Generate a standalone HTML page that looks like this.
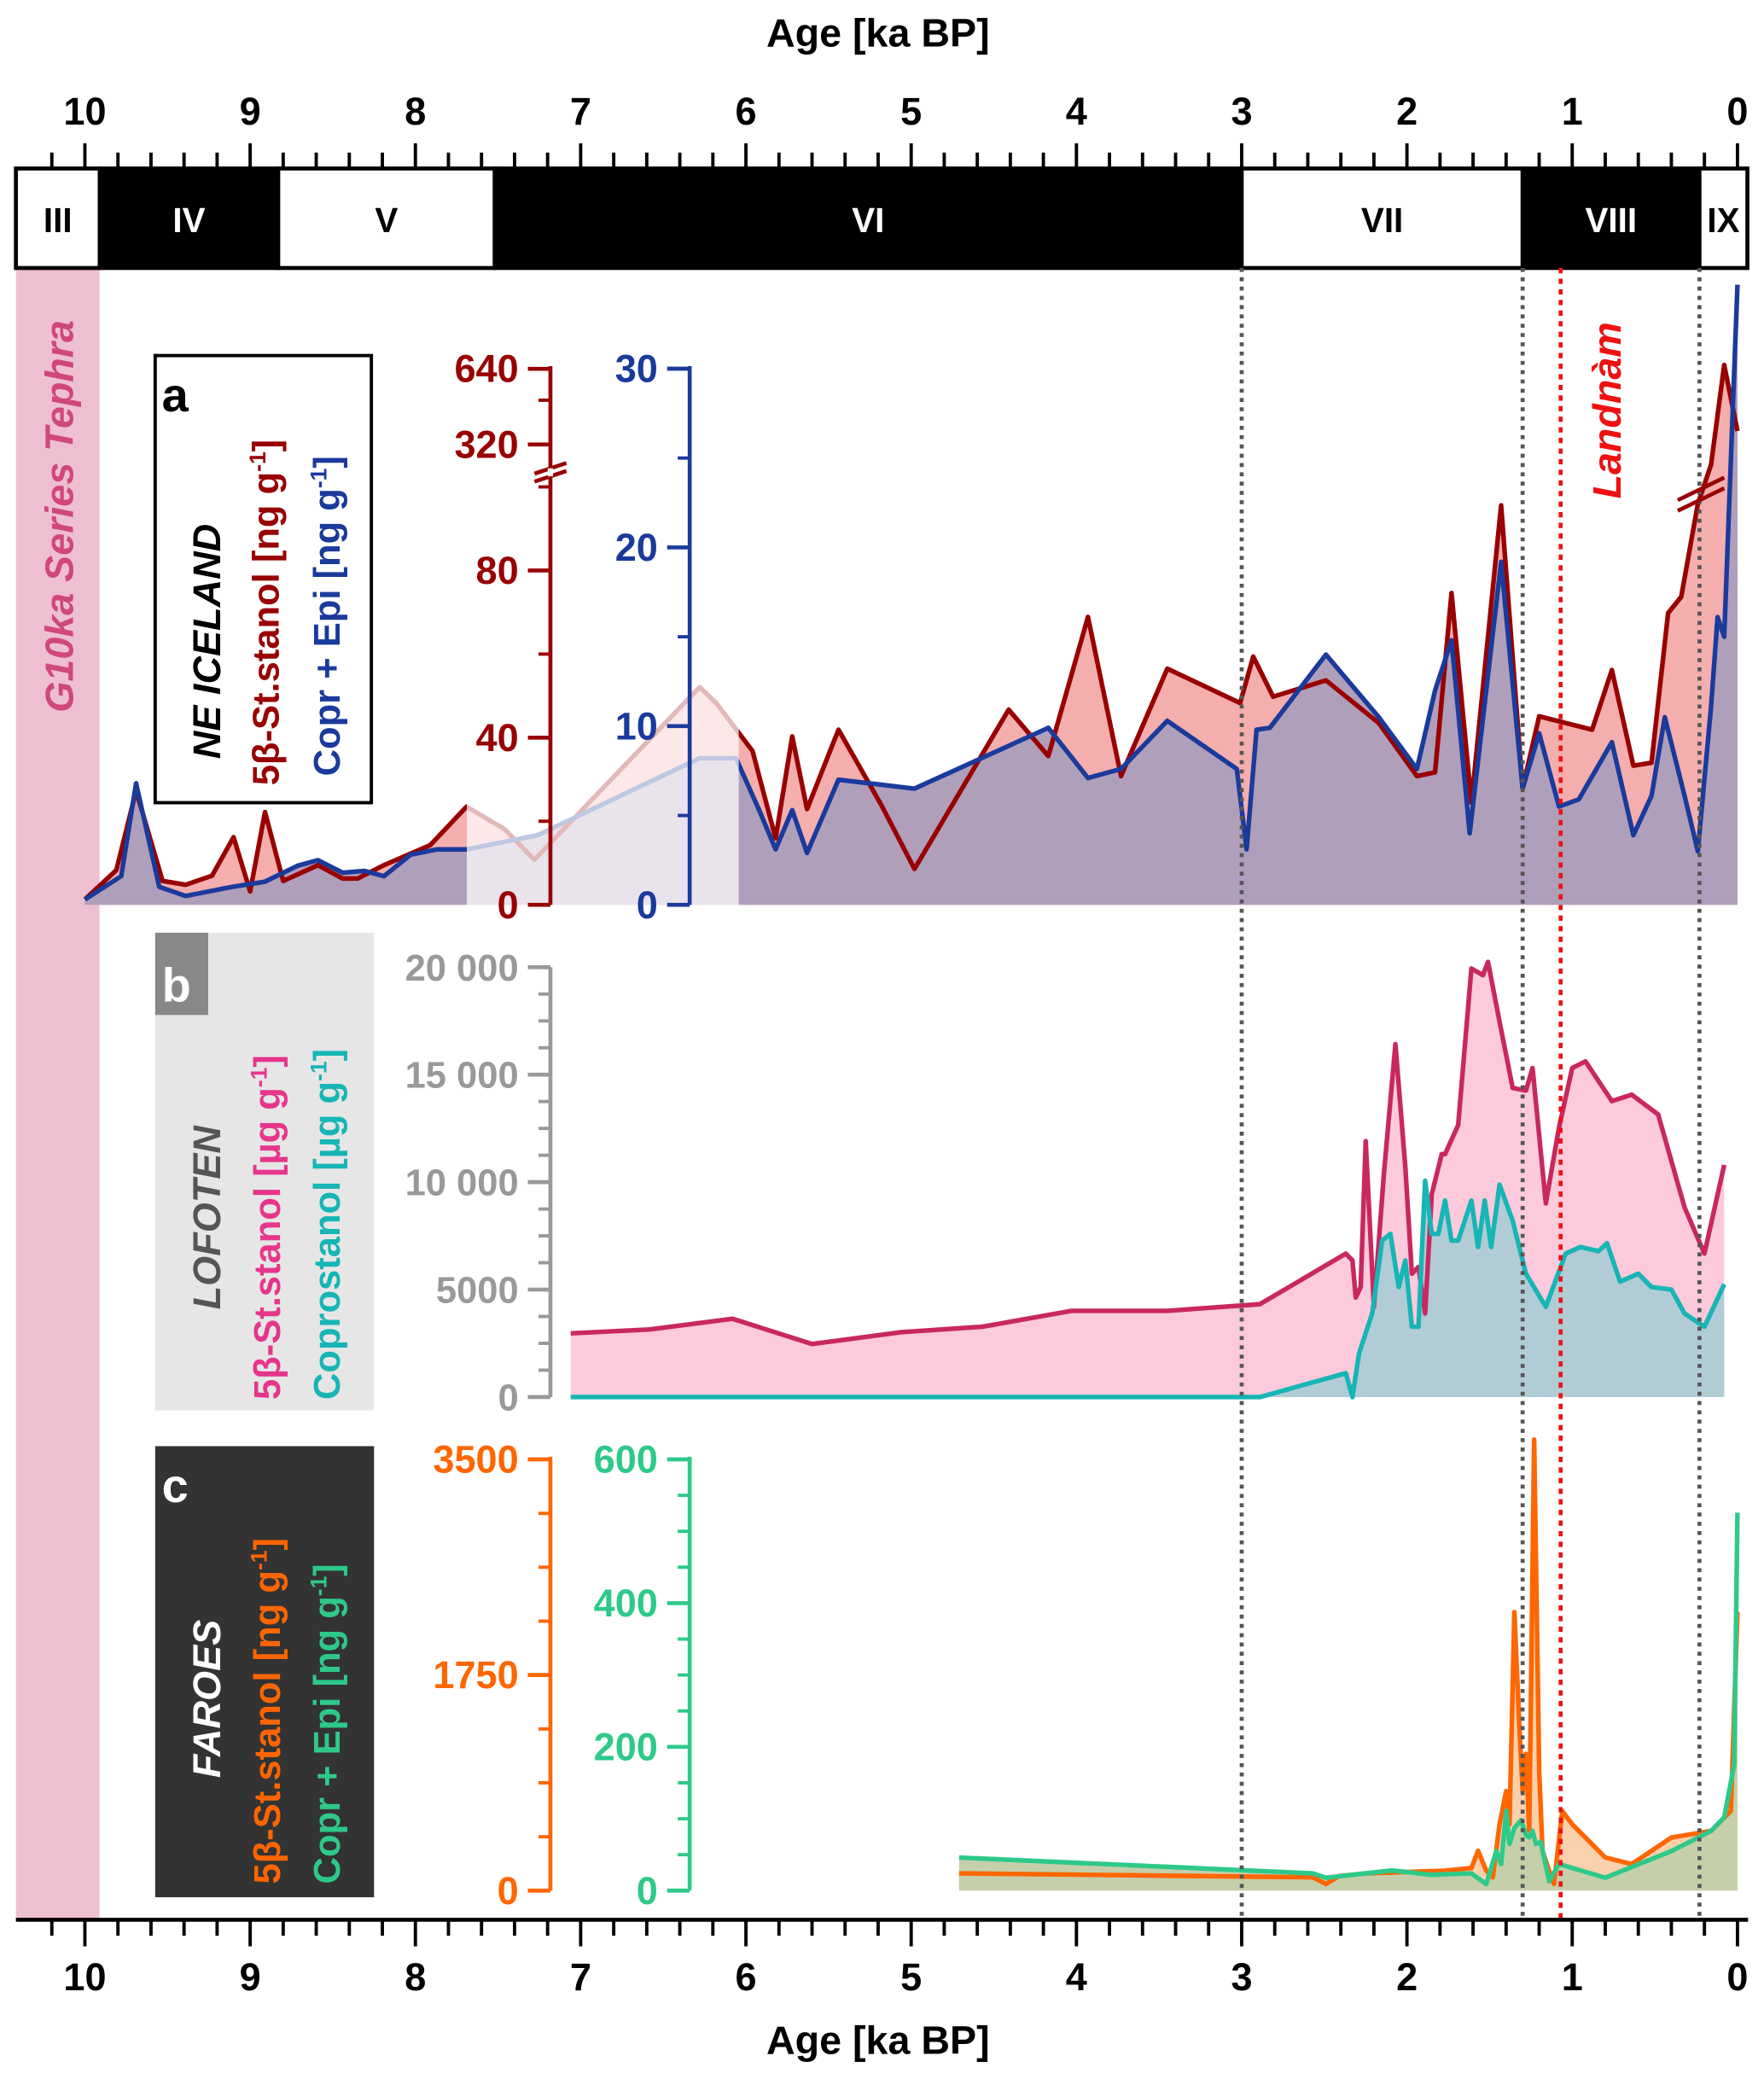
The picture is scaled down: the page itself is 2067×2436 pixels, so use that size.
<!DOCTYPE html>
<html><head><meta charset="utf-8"><style>
html,body{margin:0;padding:0;background:#fff}
svg{display:block}
text{font-family:"Liberation Sans",sans-serif;font-weight:bold}
</style></head><body>
<svg id="chart" width="2067" height="2436" viewBox="0 0 1330 1567" preserveAspectRatio="none" xmlns="http://www.w3.org/2000/svg">
<rect x="0" y="0" width="1330" height="1567" fill="#fff"/>
<g id="bg"></g>
<g id="marks"></g>
<g id="axes"></g>
<g id="labels"></g>
</svg>
<script>
// Panel a: NE Iceland
const redAges=[10.0,9.81,9.69,9.53,9.39,9.23,9.10,9.00,8.91,8.80,8.59,8.44,8.35,8.19,7.91,7.69,7.46,7.28,6.28,6.18,5.96,5.82,5.72,5.63,5.44,5.18,4.98,4.41,4.17,3.93,3.73,3.45,3.01,2.93,2.81,2.49,2.17,1.94,1.83,1.73,1.61,1.43,1.30,1.20,0.88,0.76,0.63,0.52,0.42,0.34,0.24,0.16,0.08,0.0];
const redVals=[1.3,8.3,27.3,5.7,4.8,7.0,16.2,3.2,22.2,5.7,9.5,6.3,6.3,9.5,14.3,23.5,18.1,10.8,52.1,48.3,36.8,15.9,40.3,22.9,41.9,23.8,8.6,46.7,35.6,68.9,30.8,56.5,48.3,59.4,49.8,53.7,43.5,30.8,31.7,74.6,24.4,95.6,27.9,45.1,41.9,56.2,33.3,34.0,69.8,73.7,95.9,266,663,362];
const blueAges=[10.0,9.78,9.69,9.55,9.39,9.11,8.91,8.71,8.59,8.44,8.31,8.19,8.03,7.87,7.69,7.26,6.28,6.06,5.92,5.82,5.72,5.63,5.44,4.98,4.17,3.93,3.73,3.45,3.03,2.97,2.91,2.83,2.49,2.17,1.94,1.83,1.73,1.62,1.43,1.30,1.20,1.08,0.96,0.76,0.63,0.52,0.44,0.32,0.24,0.16,0.12,0.08,0.0];
const blueVals=[0.3,1.6,6.8,1.0,0.5,1.0,1.3,2.2,2.5,1.8,1.9,1.6,2.8,3.1,3.1,3.9,8.2,8.2,5.3,3.1,5.3,2.9,7.0,6.5,9.9,7.1,7.6,10.3,7.6,3.1,9.8,9.9,14.0,10.5,7.6,12.0,14.8,4.0,19.2,6.5,9.6,5.5,5.9,9.1,3.9,6.1,10.5,6.1,3.0,11.1,16.1,15.0,34.7];
// Panel b: Lofoten
const crimAges=[7.06,6.58,6.08,5.60,5.06,4.57,4.03,3.45,2.89,2.37,2.33,2.31,2.28,2.25,2.20,2.14,2.07,2.01,1.97,1.93,1.89,1.85,1.79,1.77,1.69,1.61,1.54,1.51,1.44,1.36,1.28,1.24,1.16,1.08,1.00,0.92,0.76,0.64,0.48,0.32,0.20,0.08];
const crimVals=[2960,3150,3640,2470,3020,3270,4010,4010,4320,6670,6360,4630,5120,11910,4200,10370,16420,10680,5740,6050,3890,9440,11300,11300,12650,19940,19630,20250,17470,14380,14260,15310,9010,12530,15310,15620,13770,14070,13150,8830,6670,10800];
const tealAges=[7.06,2.89,2.37,2.33,2.29,2.21,2.15,2.10,2.05,2.01,1.97,1.93,1.89,1.85,1.81,1.77,1.73,1.69,1.61,1.57,1.53,1.49,1.44,1.36,1.28,1.16,1.04,0.95,0.84,0.79,0.71,0.60,0.52,0.40,0.32,0.20,0.08];
const tealVals=[0,0,1110,0,2040,3890,7280,7590,5120,6360,3270,3270,10060,7590,7590,9140,7280,7280,9140,6980,9140,6980,9880,8210,5740,4200,6670,6980,6790,7160,5370,5740,5120,5000,3890,3270,5250];
// Panel c: Faroes
const orAges=[4.71,2.57,2.49,2.41,2.25,2.01,1.77,1.61,1.57,1.52,1.48,1.44,1.40,1.38,1.35,1.32,1.30,1.28,1.26,1.23,1.20,1.18,1.14,1.11,1.06,1.00,0.80,0.64,0.40,0.16,0.04,0.0];
const orVals=[140,108,54,118,140,151,162,183,323,162,108,539,808,539,2262,1346,808,1109,485,3662,969,323,162,54,646,539,269,215,431,485,646,2262];
const grAges=[4.71,2.57,2.49,2.33,2.09,1.85,1.61,1.52,1.46,1.43,1.40,1.38,1.35,1.31,1.28,1.26,1.24,1.22,1.19,1.14,1.08,0.80,0.40,0.16,0.08,0.02,0.0];
const grVals=[46,24,18,22,28,22,24,9,55,37,111,65,87,98,78,74,83,65,68,13,37,18,55,83,102,175,526];
// Axes / ticks
const ageTicks=[10,9,8,7,6,5,4,3,2,1,0];
const zoneNames=["III","IV","V","VI","VII","VIII","IX"];
const zoneBounds=[10.42,9.91,8.83,7.52,3.0,1.30,0.23,-0.06];
const redTicks=[0,40,80,320,640];
const blueTicks=[0,10,20,30];
const lofTicks=[0,5000,10000,15000,20000];
const lofLabels=["0","5000","10 000","15 000","20 000"];
const orTicks=[0,1750,3500];
const grTicks=[0,200,400,600];
const dottedAges=[3.0,1.3,0.23];
const landnamAge=1.07;

const NS="http://www.w3.org/2000/svg";
function X(a){return 1310-a*124.6;}
function yRed(v){return v<=120?682-v*3.15:335-57*Math.log2(v/320);}
function yBlue(v){return 682-v*13.47;}
function yLof(v){return 1053-v*0.0162;}
function yOr(v){return 1425-v*325/3500;}
function yGr(v){return 1425-v*325/600;}
function el(tag,attrs,parent,txt){const e=document.createElementNS(NS,tag);for(const k in attrs)e.setAttribute(k,attrs[k]);if(txt!==undefined)e.textContent=txt;parent.appendChild(e);return e;}
const bg=document.getElementById('bg'),marks=document.getElementById('marks'),axes=document.getElementById('axes'),labels=document.getElementById('labels');

function pts(ages,vals,fy){return ages.map((a,i)=>X(a).toFixed(1)+','+fy(vals[i]).toFixed(1));}
function area(ages,vals,fy,base,fill,name){
  const p=pts(ages,vals,fy);
  const d='M'+X(ages[0]).toFixed(1)+','+base+' L'+p.join(' L')+' L'+X(ages[ages.length-1]).toFixed(1)+','+base+' Z';
  const e=el('path',{d:d,fill:fill,stroke:'none'},marks);
  
  
}
function line(ages,vals,fy,color,name){
  const e=el('polyline',{points:pts(ages,vals,fy).join(' '),fill:'none',stroke:color,'stroke-width':3.5,'stroke-linejoin':'round'},marks);
  
  
}

// Tephra band
let t=el('rect',{x:12,y:202,width:63,height:1245,fill:'#eebfd0'},bg);



// Panel a
area(redAges,redVals,yRed,682,'#f5aeae','iceland-stanol-area');
area(blueAges,blueVals,yBlue,682,'#b09fbb','iceland-copr-area');
line(redAges,redVals,yRed,'#990000','iceland-stanol-line');
line(blueAges,blueVals,yBlue,'#1a3a9c','iceland-copr-line');
let fade=el('rect',{x:352,y:440,width:205,height:243,fill:'#fff','fill-opacity':0.72},marks);


// Panel b
area(crimAges,crimVals,yLof,1053,'#fccadb','lofoten-stanol-area');
area(tealAges,tealVals,yLof,1053,'#b2ccd6','lofoten-copro-area');
line(crimAges,crimVals,yLof,'#c8285f','lofoten-stanol-line');
line(tealAges,tealVals,yLof,'#17b5b5','lofoten-copro-line');
// Panel c
area(orAges,orVals,yOr,1425,'#fbd0ad','faroes-stanol-area');
area(grAges,grVals,yGr,1425,'#c5d0aa','faroes-copr-area');
line(orAges,orVals,yOr,'#ff6600','faroes-stanol-line');
line(grAges,grVals,yGr,'#2ec98a','faroes-copr-line');

// Zone bar
zoneNames.forEach((z,i)=>{
  const x1=Math.max(12,X(zoneBounds[i])),x2=Math.min(1318,X(zoneBounds[i+1]));
  const black=(i%2===1);
  const r=el('rect',{x:x1,y:127,width:x2-x1,height:75,fill:black?'#000':'#fff',stroke:'#000','stroke-width':3},axes);
  
  
  const tx=el('text',{x:(x1+x2)/2,y:175,'text-anchor':'middle','font-size':26,fill:black?'#fff':'#000'},axes,z);
  
  
});

// Dotted lines
dottedAges.forEach(a=>{
  const l=el('line',{x1:X(a),x2:X(a),y1:202,y2:1447,stroke:'#555','stroke-width':3,'stroke-dasharray':'3,4'},axes);
  
  
});
let ln=el('line',{x1:X(landnamAge),x2:X(landnamAge),y1:202,y2:1447,stroke:'#ee1111','stroke-width':3,'stroke-dasharray':'4,4'},axes);



// X axes
el('line',{x1:12,x2:1318,y1:1447,y2:1447,stroke:'#000','stroke-width':3},axes);
for(let k=-1;k<=50;k++){
  const a=10-k*0.2;
  if(a<-0.01) break;
  const major=(k%5===0);
  el('line',{x1:X(a),x2:X(a),y1:1447,y2:major?1467:1459,stroke:'#000','stroke-width':2.5},axes);
  el('line',{x1:X(a),x2:X(a),y1:major?108:115,y2:127,stroke:'#000','stroke-width':2.5},axes);
}
ageTicks.forEach(a=>{
  let e=el('text',{x:X(a),y:94,'text-anchor':'middle','font-size':29},labels,String(a));
  
  
  e=el('text',{x:X(a),y:1500,'text-anchor':'middle','font-size':29},labels,String(a));
  
  
});
let tt=el('text',{x:662,y:35,'text-anchor':'middle','font-size':30},labels,'Age [ka BP]');


tt=el('text',{x:662,y:1548,'text-anchor':'middle','font-size':30},labels,'Age [ka BP]');



// Y axis helper
function yaxis(x,y1,y2,color,ticks,tickLabels,fy,minor,name,fs){
  const g=el('g',{},axes);
  
  
  el('line',{x1:x,x2:x,y1:y1,y2:y2,stroke:color,'stroke-width':3},g);
  minor.forEach(v=>el('line',{x1:x-9,x2:x,y1:fy(v),y2:fy(v),stroke:color,'stroke-width':2.5},g));
  ticks.forEach((v,i)=>{
    el('line',{x1:x-17,x2:x,y1:fy(v),y2:fy(v),stroke:color,'stroke-width':3},g);
    const e=el('text',{x:x-24,y:fy(v)+10,'text-anchor':'end','font-size':fs,fill:color},labels,tickLabels[i]);
    
    
  });
}
yaxis(415,682,276,'#990000',redTicks,redTicks.map(String),yRed,[20,60,100,480],'iceland-stanol-axis',29);
// axis break marks
el('line',{x1:403,x2:427,y1:363,y2:355,stroke:'#990000','stroke-width':3},axes);
el('line',{x1:403,x2:427,y1:357,y2:349,stroke:'#990000','stroke-width':3},axes);
el('rect',{x:413,y:353,width:4,height:6,fill:'#fff'},axes);
el('line',{x1:1265,x2:1300,y1:385,y2:368,stroke:'#990000','stroke-width':3},axes);
el('line',{x1:1265,x2:1300,y1:377,y2:360,stroke:'#990000','stroke-width':3},axes);
yaxis(520,682,276,'#1a3a9c',blueTicks,blueTicks.map(String),yBlue,[5,15,25],'iceland-copr-axis',29);
yaxis(415,1053,729,'#999',lofTicks,lofLabels,yLof,[1250,2500,3750,6250,7500,8750,11250,12500,13750,16250,17500,18750],'lofoten-axis',28);
yaxis(415,1425,1098,'#ff6600',orTicks,orTicks.map(String),yOr,[437,875,1312,2187,2625,3062],'faroes-stanol-axis',29);
yaxis(520,1425,1098,'#2ec98a',grTicks,grTicks.map(String),yGr,[50,100,150,250,300,350,450,500,550],'faroes-copr-axis',29);

// Rotated labels
function rtext(x,y,txt,color,size,italic,name){
  const e=el('text',{x:0,y:0,transform:'translate('+x+','+y+') rotate(-90)','font-size':size,fill:color,'font-style':italic?'italic':'normal'},labels);
  e.innerHTML=txt;
  
  
  return e;
}
rtext(55,537,'G10ka Series Tephra','#d0477a',30,true,'tephra-label');
rtext(1222,376,'Landnàm','#ee1111',30,true,'landnam-label');

// Panel a box
let bx=el('rect',{x:117,y:268,width:163,height:337,fill:'#fff',stroke:'#000','stroke-width':2.5},labels);


el('text',{x:122,y:310,'font-size':36},labels,'a');
rtext(166,572,'NE  ICELAND','#000',29,true,'iceland-title');
rtext(210,592,'5β-St.stanol [ng g<tspan font-size="17" dy="-10">-1</tspan><tspan dy="10">]</tspan>','#990000',28,false,'iceland-stanol-legend');
rtext(256,585,'Copr + Epi  [ng g<tspan font-size="17" dy="-10">-1</tspan><tspan dy="10">]</tspan>','#1a3a9c',28,false,'iceland-copr-legend');

// Panel b box
bx=el('rect',{x:117,y:703,width:165,height:360,fill:'#e6e6e6'},bg);


el('rect',{x:117,y:703,width:40,height:62,fill:'#888'},labels);
el('text',{x:122,y:755,'font-size':36,fill:'#fff'},labels,'b');
rtext(166,987,'LOFOTEN','#555',29,true,'lofoten-title');
rtext(211,1055,'5β-St.stanol  [µg g<tspan font-size="17" dy="-10">-1</tspan><tspan dy="10">]</tspan>','#e6358a',28,false,'lofoten-stanol-legend');
rtext(256,1055,'Coprostanol [µg g<tspan font-size="17" dy="-10">-1</tspan><tspan dy="10">]</tspan>','#17b5b5',28,false,'lofoten-copro-legend');

// Panel c box
bx=el('rect',{x:117,y:1090,width:165,height:340,fill:'#333'},bg);


el('text',{x:122,y:1132,'font-size':36,fill:'#fff'},labels,'c');
rtext(166,1340,'FAROES','#fff',29,true,'faroes-title');
rtext(211,1420,'5β-St.stanol [ng g<tspan font-size="17" dy="-10">-1</tspan><tspan dy="10">]</tspan>','#ff6600',28,false,'faroes-stanol-legend');
rtext(256,1420,'Copr + Epi   [ng g<tspan font-size="17" dy="-10">-1</tspan><tspan dy="10">]</tspan>','#2ec98a',28,false,'faroes-copr-legend');
</script>
</body></html>
